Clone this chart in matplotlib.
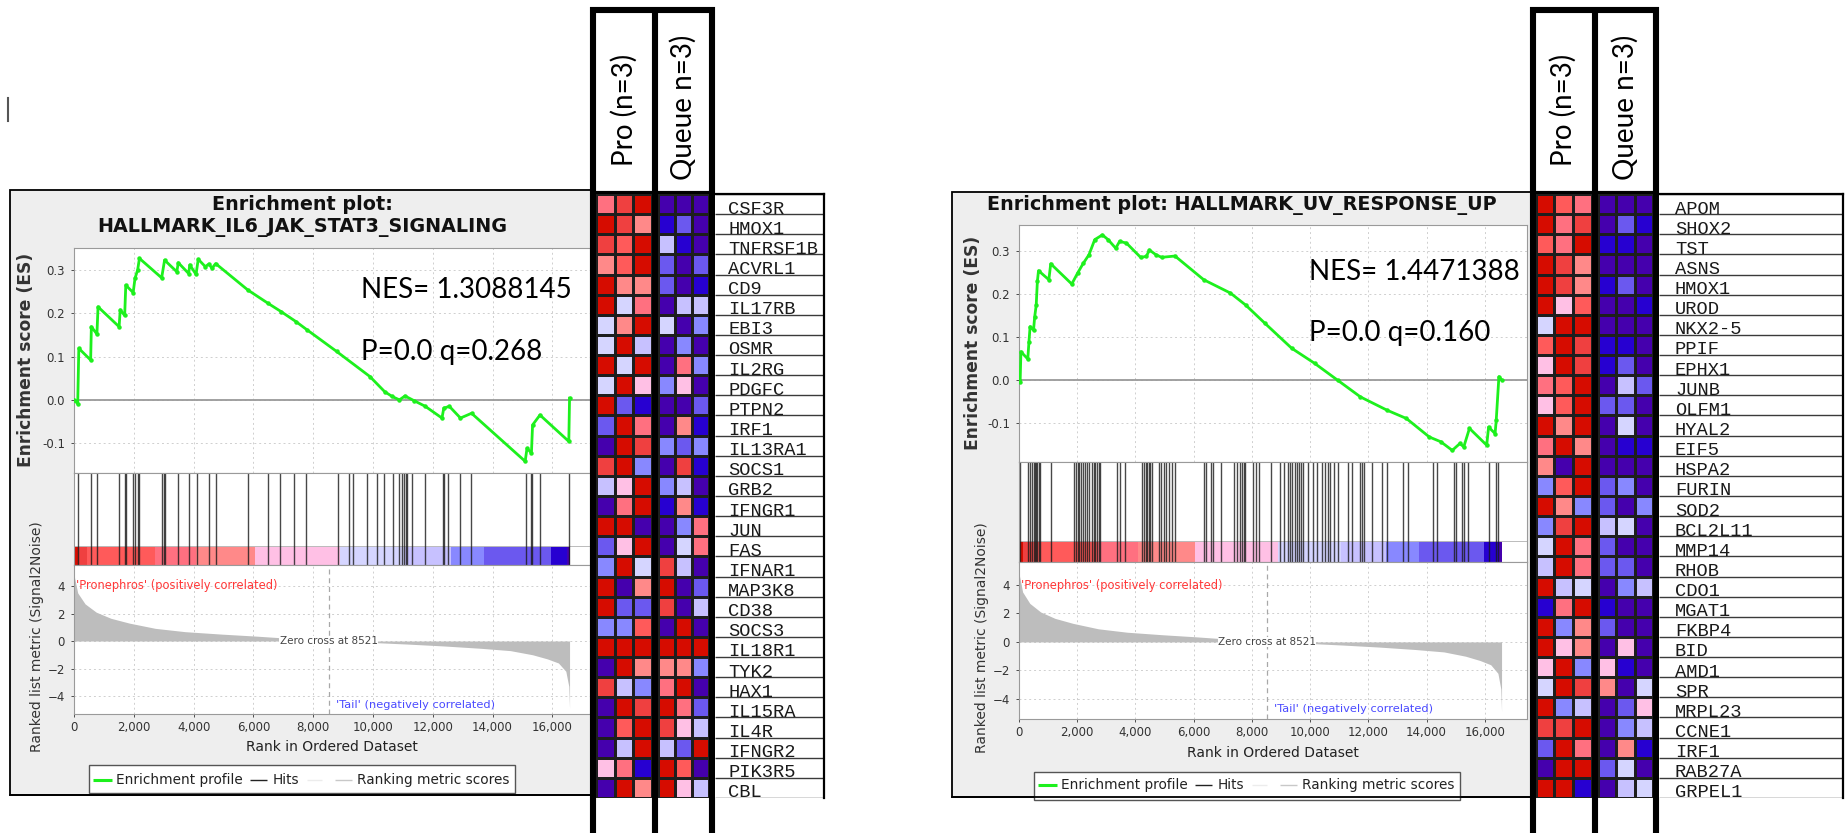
import matplotlib
matplotlib.use("Agg")
import matplotlib.pyplot as plt
from matplotlib.colors import ListedColormap
from matplotlib.patches import Rectangle
from matplotlib.ticker import FuncFormatter
import numpy as np

W, H = 1845, 833

# GSEA heat map colours (blue -> red)
palette = ["#4500AD", "#2700D1", "#6B58EF", "#8888FF", "#C7C1FF", "#D5D5FF",
           "#FFC0E5", "#FF8989", "#FF7080", "#FF5A5A", "#EF4040", "#D60C00"]

# ranked list metric (same ranked list for both sets)
metric_rank = [0, 124, 371, 742, 1237, 1855, 2721, 3711, 4948, 6061, 7174, 8510,
               9896, 11133, 12370, 13607, 14596, 15338, 15833, 16204, 16451, 16551, 16576]
metric_val = [4.8, 3.5, 2.7, 2.1, 1.65, 1.3, 0.92, 0.68, 0.5, 0.36, 0.2, 0.0,
              -0.1, -0.22, -0.36, -0.53, -0.7, -1.0, -1.3, -1.6, -2.2, -3.3, -4.9]
zero_cross = 8521
bar_edges = [0, 150, 430, 2720, 4080, 6060, 8900, 11070, 12620, 13730, 15960, 16500, 16600]
bar_levels = [11, 10, 9, 8, 7, 6, 5, 4, 3, 2, 1, 0]
x_ticks = [0, 2000, 4000, 6000, 8000, 10000, 12000, 14000, 16000]

# HALLMARK_IL6_JAK_STAT3_SIGNALING
il6_title = "Enrichment plot:\nHALLMARK_IL6_JAK_STAT3_SIGNALING"
il6_nes = "NES= 1.3088145"
il6_pq = "P=0.0 q=0.268"
il6_es_rank = [0, 124, 161, 557, 581, 767, 804, 1509, 1546, 1695, 1732, 1979, 2041, 2128,
               2189, 2932, 3030, 3439, 3488, 3835, 3872, 4082, 4156, 4391, 4515, 4614,
               4738, 5814, 6494, 6927, 7422, 7793, 8783, 9896, 10391, 10638, 10886, 11071,
               11380, 11752, 12308, 12370, 12556, 12927, 13298, 15091, 15153, 15301,
               15339, 15586, 16551, 16576]
il6_es = [0, -0.009, 0.119, 0.092, 0.169, 0.152, 0.215, 0.169, 0.208, 0.195, 0.265, 0.248,
          0.281, 0.300, 0.327, 0.282, 0.323, 0.296, 0.317, 0.292, 0.312, 0.290, 0.325,
          0.308, 0.314, 0.304, 0.315, 0.254, 0.223, 0.204, 0.181, 0.162, 0.112, 0.054,
          0.019, 0.008, 0.000, 0.009, -0.002, -0.015, -0.042, -0.019, -0.015, -0.042,
          -0.031, -0.142, -0.112, -0.123, -0.058, -0.035, -0.096, 0.004]
il6_hits = [148, 557, 779, 1509, 1695, 1732, 1979, 2041, 2128, 2189, 2944, 2994, 3055,
            3464, 3835, 4119, 4515, 4738, 5814, 6494, 6890, 7360, 7768, 8820, 9191, 9339,
            9809, 10119, 10354, 10663, 10861, 10985, 11046, 11108, 11133, 11319, 11752,
            12333, 12370, 12494, 12927, 13273, 15129, 15277, 15314, 15586, 16551]
il6_genes = ["CSF3R", "HMOX1", "TNFRSF1B", "ACVRL1", "CD9", "IL17RB", "EBI3", "OSMR",
             "IL2RG", "PDGFC", "PTPN2", "IRF1", "IL13RA1", "SOCS1", "GRB2", "IFNGR1",
             "JUN", "FAS", "IFNAR1", "MAP3K8", "CD38", "SOCS3", "IL18R1", "TYK2", "HAX1",
             "IL15RA", "IL4R", "IFNGR2", "PIK3R5", "CBL"]
il6_pro = [[8, 10, 11], [11, 10, 7], [10, 9, 11], [7, 9, 11], [11, 7, 7], [11, 5, 8],
           [5, 7, 11], [5, 11, 4], [11, 5, 11], [5, 11, 6], [11, 2, 1], [2, 11, 8],
           [0, 11, 10], [10, 11, 3], [4, 6, 11], [0, 8, 11], [11, 11, 0], [2, 6, 11],
           [3, 11, 5], [11, 0, 7], [11, 2, 2], [3, 3, 9], [11, 11, 11], [0, 11, 7],
           [10, 4, 3], [0, 11, 10], [0, 9, 11], [0, 4, 11], [6, 8, 1], [0, 11, 7]]
il6_queue = [[0, 0, 0], [1, 2, 0], [4, 1, 0], [2, 0, 2], [2, 0, 1], [0, 4, 4],
             [5, 0, 3], [0, 3, 0], [0, 8, 3], [3, 6, 0], [0, 0, 2], [0, 7, 1],
             [3, 2, 3], [0, 10, 1], [3, 4, 0], [1, 7, 1], [0, 3, 8], [0, 5, 8],
             [10, 4, 0], [11, 0, 2], [10, 0, 4], [0, 11, 0], [11, 11, 11], [7, 7, 3],
             [8, 11, 0], [11, 8, 2], [10, 6, 4], [4, 2, 11], [11, 9, 0], [11, 6, 4]]

# HALLMARK_UV_RESPONSE_UP
uv_title = "Enrichment plot: HALLMARK_UV_RESPONSE_UP"
uv_nes = "NES= 1.4471388"
uv_pq = "P=0.0 q=0.160"
uv_es_rank = [0, 39, 66, 302, 342, 381, 499, 539, 591, 631, 670, 1025, 1090, 1813, 2010,
              2207, 2404, 2601, 2864, 3061, 3323, 3455, 3691, 4177, 4374, 4479, 4703,
              4900, 5359, 6345, 7264, 7790, 8446, 9366, 10154, 10942, 11730, 12650,
              13307, 14095, 14489, 14883, 15146, 15277, 15474, 16065, 16131, 16354,
              16393, 16485, 16590]
uv_es = [0, -0.004, 0.066, 0.049, 0.089, 0.124, 0.116, 0.147, 0.174, 0.229, 0.254, 0.233,
         0.270, 0.223, 0.248, 0.271, 0.291, 0.326, 0.337, 0.326, 0.306, 0.322, 0.318,
         0.285, 0.287, 0.302, 0.291, 0.285, 0.288, 0.233, 0.202, 0.174, 0.132, 0.074,
         0.039, 0.000, -0.039, -0.070, -0.089, -0.132, -0.143, -0.163, -0.147, -0.155,
         -0.112, -0.151, -0.109, -0.124, -0.093, 0.008, 0.000]
uv_hits = [39, 302, 368, 433, 499, 539, 591, 631, 670, 722, 1090, 1878, 1944, 2010, 2075,
           2141, 2207, 2273, 2338, 2404, 2509, 2562, 2601, 2667, 2732, 2798, 3363, 3455,
           3652, 4217, 4282, 4348, 4401, 4453, 4506, 4571, 4795, 4873, 4965, 5057, 5162,
           5268, 5359, 6345, 6410, 6581, 6673, 6936, 7396, 7501, 7593, 7658, 7724, 7763,
           8052, 8157, 8249, 8643, 8972, 9103, 9234, 9300, 9392, 9471, 9563, 9629, 9694,
           9760, 9918, 10088, 10220, 10417, 10509, 10614, 10680, 10811, 10942, 11310,
           11442, 11730, 11796, 11862, 12124, 12453, 12650, 13202, 13373, 14226, 14358,
           14949, 15015, 15212, 15277, 15435, 16131, 16393, 16459]
uv_genes = ["APOM", "SHOX2", "TST", "ASNS", "HMOX1", "UROD", "NKX2-5", "PPIF", "EPHX1",
            "JUNB", "OLFM1", "HYAL2", "EIF5", "HSPA2", "FURIN", "SOD2", "BCL2L11", "MMP14",
            "RHOB", "CDO1", "MGAT1", "FKBP4", "BID", "AMD1", "SPR", "MRPL23", "CCNE1",
            "IRF1", "RAB27A", "GRPEL1"]
uv_pro = [[11, 9, 8], [11, 8, 10], [9, 8, 11], [11, 10, 7], [11, 10, 7], [11, 6, 9],
          [5, 11, 11], [9, 11, 10], [6, 11, 10], [8, 9, 11], [6, 9, 11], [11, 7, 11],
          [8, 11, 7], [7, 0, 11], [3, 9, 11], [11, 7, 3], [3, 10, 11], [5, 11, 8],
          [4, 11, 8], [11, 4, 5], [1, 8, 11], [11, 3, 7], [11, 6, 7], [6, 11, 3],
          [5, 11, 10], [11, 3, 4], [10, 10, 11], [2, 11, 8], [0, 11, 11], [11, 11, 1]]
uv_queue = [[0, 0, 0], [0, 2, 1], [1, 1, 0], [0, 0, 0], [1, 2, 0], [0, 0, 1],
            [0, 0, 0], [1, 1, 0], [1, 2, 0], [0, 4, 2], [2, 2, 0], [0, 5, 0],
            [0, 1, 1], [0, 0, 0], [2, 3, 0], [2, 0, 3], [4, 5, 0], [2, 0, 0],
            [2, 2, 0], [0, 3, 4], [1, 0, 0], [2, 0, 0], [0, 6, 0], [6, 1, 0],
            [7, 0, 5], [0, 2, 6], [0, 3, 4], [0, 7, 1], [2, 5, 0], [0, 4, 5]]

group_labels = ["Pro (n=3)", "Queue n=3)"]

cmap = ListedColormap(palette)
GREEN = "#1df01d"


def fbox(x0, y0, x1, y1):
    # pixel box (top-left origin) -> figure fraction rect
    return [x0 / W, 1 - y1 / H, (x1 - x0) / W, (y1 - y0) / H]


fig = plt.figure(figsize=(W / 100, H / 100), dpi=100)
bg = fig.add_axes([0, 0, 1, 1], zorder=0)
bg.set_xlim(0, W)
bg.set_ylim(H, 0)
bg.axis("off")
top = fig.add_axes([0, 0, 1, 1], zorder=5)
top.set_xlim(0, W)
top.set_ylim(H, 0)
top.axis("off")
top.patch.set_alpha(0)


def style_axes(ax):
    for s in ax.spines.values():
        s.set_color("#9a9a9a")
        s.set_linewidth(0.8)
    ax.tick_params(colors="#333333", labelsize=8.5, length=2, width=0.6, pad=3)


def draw_gsea(g, title, nes, pq, es_rank, es, hits):
    x0, y0, x1, y1 = g["panel"]
    bg.add_patch(Rectangle((x0, y0), x1 - x0, y1 - y0, fc="#eeeeee", ec="black", lw=1.3))
    bg.text(g["title_xy"][0], g["title_xy"][1], title, ha="center", va="center",
            fontsize=13.8, fontweight="bold", color="#111111", linespacing=1.25)

    # enrichment score
    ax = fig.add_axes(fbox(*g["es"]), zorder=1)
    ax.set_facecolor("white")
    ax.plot(es_rank, es, color=GREEN, lw=2, marker="o", ms=2.2, zorder=3)
    ax.axhline(0, color="#9a9a9a", lw=1.3, zorder=2)
    ax.set_xlim(0, g["xmax"])
    ax.set_ylim(*g["es_ylim"])
    ax.set_xticks(x_ticks)
    ax.set_yticks([-0.1, 0.0, 0.1, 0.2, 0.3])
    ax.set_yticklabels(["-0.1", "0.0", "0.1", "0.2", "0.3"])
    ax.grid(True, ls=(0, (2, 3)), color="#cfcfcf", lw=0.7)
    style_axes(ax)
    ax.tick_params(axis="x", length=0, labelbottom=False)
    ax.tick_params(axis="y", pad=4.5)
    ex0, ey0, ex1, ey1 = g["es"]
    for txt, (tx, ty) in ((nes, g["nes_xy"]), (pq, g["pq_xy"])):
        ax.text((tx - ex0) / (ex1 - ex0), (ey1 - ty) / (ey1 - ey0), txt,
                transform=ax.transAxes, family="Lato", fontsize=20,
                va="center", ha="left", zorder=5)

    # hits + colour bar
    hx = fig.add_axes(fbox(*g["hits"]), zorder=1)
    hx.set_facecolor("white")
    cb = g["cb_frac"]
    hx.bar(bar_edges[:-1], cb, width=np.diff(bar_edges), bottom=0, align="edge",
           color=[palette[k] for k in bar_levels], lw=0, zorder=1)
    hx.vlines(hits, 0, 1, color="#1a1a1a", lw=1.0, alpha=0.8, zorder=2)
    hx.axhline(cb, color="#bbbbbb", lw=0.7, zorder=1)
    hx.set_xlim(0, g["xmax"])
    hx.set_ylim(0, 1)
    hx.set_xticks([])
    hx.set_yticks([])
    style_axes(hx)

    # ranked list metric
    mx = fig.add_axes(fbox(*g["metric"]), zorder=1)
    mx.set_facecolor("white")
    mx.fill_between(metric_rank, metric_val, 0, color="#bdbdbd", lw=0, zorder=2)
    mx.axvline(zero_cross, color="#a8a8a8", ls=(0, (4, 3)), lw=0.9, zorder=3)
    mx.text(zero_cross, 0, f"Zero cross at {zero_cross}", ha="center", va="center",
            fontsize=7.5, color="#444444", zorder=4,
            bbox=dict(fc="white", ec="none", pad=0.3))
    mx.set_xlim(0, g["xmax"])
    mx.set_ylim(*g["metric_ylim"])
    mx.set_xticks(x_ticks)
    mx.xaxis.set_major_formatter(FuncFormatter(lambda v, p: f"{int(v):,}"))
    mx.set_yticks([-4, -2, 0, 2, 4])
    mx.grid(True, ls=(0, (2, 3)), color="#cfcfcf", lw=0.7)
    style_axes(mx)
    mx.tick_params(axis="y", pad=4.5)
    mx.text(0.004, g["pos_y"], "'Pronephros' (positively correlated)",
            transform=mx.transAxes, fontsize=8.3, color="#ff3838", va="center")
    mx.text(8750, g["neg_y"], "'Tail' (negatively correlated)",
            transform=mx.get_xaxis_transform(), fontsize=8.2, color="#4a4aff",
            va="center")

    bg.text(g["es_ylabel_xy"][0], g["es_ylabel_xy"][1], "Enrichment score (ES)",
            rotation=90, ha="center", va="center", fontsize=12.3, fontweight="bold",
            color="#333333")
    bg.text(g["m_ylabel_xy"][0], g["m_ylabel_xy"][1], "Ranked list metric (Signal2Noise)",
            rotation=90, ha="center", va="center", fontsize=10, color="#333333")
    bg.text(g["xlabel_xy"][0], g["xlabel_xy"][1], "Rank in Ordered Dataset",
            ha="center", va="center", fontsize=10, color="#222222")

    # legend strip
    lx0, ly0, lx1, ly1 = g["legend"]
    bg.add_patch(Rectangle((lx0, ly0), lx1 - lx0, ly1 - ly0, fc="white", ec="#555555",
                           lw=1.0, zorder=3))
    ym = g["legend_text_y"]
    for (a, b), col, lw in (((4, 23), GREEN, 2.2), ((161, 178), "#222222", 1.0),
                            ((218, 233), "#ececec", 1.0), ((246, 263), "#c8c8c8", 1.0)):
        bg.plot([lx0 + a, lx0 + b], [ym, ym], color=col, lw=lw, zorder=4,
                solid_capstyle="butt")
    for off, txt in ((27, "Enrichment profile"), (184, "Hits"),
                     (268, "Ranking metric scores")):
        bg.text(lx0 + off, ym, txt, fontsize=9.8, va="center", ha="left",
                color="#222222", zorder=4)
    bg.plot([x0, x1], [y1, y1], color="black", lw=1.3, zorder=5)


def draw_heat(h, genes, pro, queue):
    xl, xm, xr, xlab = h["xl"], h["xm"], h["xr"], h["lab_right"]
    r0, r1 = h["rows"]
    top.add_patch(Rectangle((xl - 3, 0), xlab - xl + 3, H, fc="white", ec="none", zorder=1))
    for x in (xl, xm, xr):
        top.plot([x, x], [7, H], color="black", lw=4.4, zorder=3, solid_capstyle="butt")
    top.plot([xl - 3, xr + 3], [10, 10], color="black", lw=4.4, zorder=3,
             solid_capstyle="butt")
    top.plot([xl - 3, xr + 3], [r0 - 1.5, r0 - 1.5], color="black", lw=3, zorder=3,
             solid_capstyle="butt")
    top.text((xl + xm) / 2, 110, group_labels[0], rotation=90, ha="center",
             va="center", family="Lato", fontsize=20, zorder=4)
    top.text((xm + xr) / 2, 107, group_labels[1], rotation=90, ha="center",
             va="center", family="Lato", fontsize=20, zorder=4)

    for (a, b), vals in (((xl + 3, xm - 3), pro), ((xm + 3, xr - 3), queue)):
        cx = fig.add_axes(fbox(a, r0, b, r1), zorder=6)
        cx.pcolormesh(np.array(vals), cmap=cmap, vmin=-0.5, vmax=11.5,
                      edgecolors="#1e1e1e", linewidth=0.8)
        cx.set_xlim(0, 3)
        cx.set_ylim(len(vals), 0)
        cx.axis("off")

    lx = fig.add_axes(fbox(xr + 3, r0, xlab, r1), zorder=6)
    lx.set_xlim(0, 1)
    lx.set_ylim(len(genes), 0)
    lx.hlines(range(len(genes) + 1), 0, 1, color="#3a3a3a", lw=1.0)
    for s in ("left", "bottom"):
        lx.spines[s].set_visible(False)
    for s in ("top", "right"):
        lx.spines[s].set_color("black")
        lx.spines[s].set_linewidth(1.6)
    lx.set_xticks([])
    lx.set_yticks([])
    off = h["text_off"] / (xlab - xr - 3)
    for i, gname in enumerate(genes):
        lx.text(off, i + 0.97, gname, family="Liberation Mono", fontsize=13.5,
                va="baseline", ha="left", color="#1a1a1a")


left = dict(panel=(10, 190, 600, 795), es=(74, 248, 590, 473), hits=(74, 473, 590, 565),
            metric=(74, 565, 590, 714), xmax=17260, es_ylim=(-0.169, 0.351),
            metric_ylim=(-5.31, 5.53), cb_frac=19 / 92, title_xy=(302, 216),
            nes_xy=(361, 290), pq_xy=(361, 352), legend=(89, 765, 515, 793),
            legend_text_y=780, es_ylabel_xy=(26, 360), m_ylabel_xy=(37, 637),
            xlabel_xy=(332, 747), pos_y=0.86, neg_y=0.06)
right = dict(panel=(952, 192, 1540, 797), es=(1019, 225, 1527, 462),
             hits=(1019, 462, 1527, 562), metric=(1019, 562, 1527, 719), xmax=17450,
             es_ylim=(-0.19, 0.36), metric_ylim=(-5.4, 5.6), cb_frac=21 / 100,
             title_xy=(1242, 205), nes_xy=(1309, 272), pq_xy=(1309, 333),
             legend=(1034, 772, 1460, 800), legend_text_y=785, es_ylabel_xy=(973, 343),
             m_ylabel_xy=(982, 638), xlabel_xy=(1273, 753), pos_y=0.85, neg_y=0.064)

draw_gsea(left, il6_title, il6_nes, il6_pq, il6_es_rank, il6_es, il6_hits)
draw_gsea(right, uv_title, uv_nes, uv_pq, uv_es_rank, uv_es, uv_hits)

draw_heat(dict(xl=593, xm=655, xr=712, lab_right=824, rows=(194, 798), text_off=13),
          il6_genes, il6_pro, il6_queue)
draw_heat(dict(xl=1532.5, xm=1595, xr=1656, lab_right=1843, rows=(194, 798), text_off=16),
          uv_genes, uv_pro, uv_queue)

# small mark at the top left
bg.plot([8, 8], [98, 121], color="#555555", lw=1.5)

fig.savefig("out.png", dpi=100)
